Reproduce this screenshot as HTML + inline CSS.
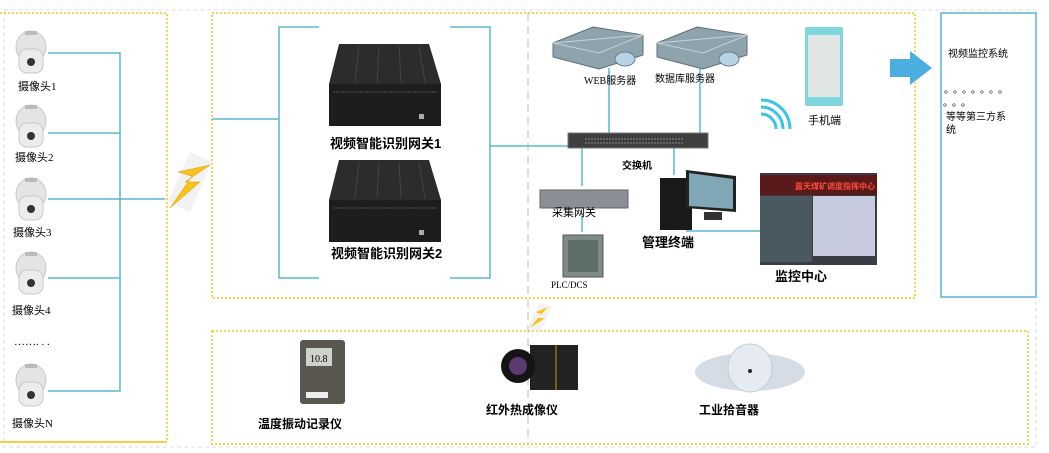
<!DOCTYPE html>
<html><head><meta charset="utf-8"><style>
body{margin:0;width:1049px;height:453px;background:#fff;overflow:hidden;font-family:"Liberation Serif","Noto Serif CJK SC","Noto Sans CJK SC",serif}
svg{position:absolute;left:0;top:0}
text{font-family:"Liberation Serif","Noto Sans CJK SC",sans-serif}
.b{font-weight:bold;font-family:"Liberation Sans","Noto Sans CJK SC",sans-serif}
</style></head><body>
<svg width="1049" height="453" viewBox="0 0 1049 453">
<defs>
<g id="cam">
<ellipse cx="16" cy="18" rx="15" ry="16" fill="#e4e4e4" stroke="#c8c8c8"/>
<rect x="4" y="20" width="24" height="24" rx="8" fill="#ececec" stroke="#c8c8c8"/>
<circle cx="16" cy="33" r="4" fill="#333"/>
<rect x="10" y="2" width="12" height="4" fill="#bbb"/>
</g>
<g id="box">
<polygon points="10,0 100,0 112,40 0,40" fill="#2c2c2e"/>
<g stroke="#444" stroke-width="1">
<line x1="30" y1="2" x2="26" y2="38"/><line x1="50" y1="2" x2="48" y2="38"/><line x1="70" y1="2" x2="72" y2="38"/><line x1="90" y1="2" x2="96" y2="38"/>
</g>
<rect x="0" y="40" width="112" height="42" fill="#1d1d1f"/>
<line x1="4" y1="48" x2="108" y2="48" stroke="#555" stroke-dasharray="2,1"/>
<rect x="90" y="70" width="5" height="5" fill="#aaa"/>
</g>
<g id="srv">
<polygon points="0,16 40,0 90,8 90,28 46,42 0,30" fill="#8fa3ad" stroke="#5d6f78"/>
<polygon points="0,16 46,26 90,8" fill="none" stroke="#c5d2d8"/>
<ellipse cx="72" cy="32" rx="10" ry="7" fill="#b9d3e6" stroke="#6a7f8c"/>
</g>
</defs>

<rect x="4" y="10" width="1032" height="437" fill="none" stroke="#ddd" stroke-dasharray="4,3"/>
<path d="M0 13 H167 V442 H0" fill="none" stroke="#f5c518" stroke-width="1.5" stroke-dasharray="2,2"/>
<line x1="0" y1="442" x2="167" y2="442" stroke="#f5c518" stroke-width="1.5"/>
<rect x="212" y="13" width="703" height="285" fill="none" stroke="#f5c518" stroke-width="1.5" stroke-dasharray="2,2"/>
<rect x="212" y="331" width="816" height="113" fill="none" stroke="#f5c518" stroke-width="1.5" stroke-dasharray="2,2"/>
<rect x="941" y="13" width="95" height="284" fill="none" stroke="#5ab4d6" stroke-width="1.5"/>
<line x1="528" y1="13" x2="528" y2="444" stroke="#bbb" stroke-dasharray="8,5"/>

<g stroke="#5ab8cf" stroke-width="1.5" fill="none">
<path d="M48 53 H120 V391 H48"/>
<path d="M48 133 H120 M48 199 H165 M48 278 H120"/>
<path d="M212 119 H279 M319 27 H279 V278 H319 M450 27 H490 V278 H450 M490 146 H575"/>
<path d="M609 68 V133 M700 68 V133 M582 147 V186 M582 213 V232 M674 147 V175 M686 231 H760"/>
</g>

<use href="#cam" x="15" y="29"/>
<use href="#cam" x="15" y="103"/>
<use href="#cam" x="15" y="176"/>
<use href="#cam" x="15" y="250"/>
<use href="#cam" x="15" y="362"/>
<g font-size="11" fill="#000">
<text x="18" y="90">摄像头1</text>
<text x="15" y="161">摄像头2</text>
<text x="13" y="236">摄像头3</text>
<text x="12" y="314">摄像头4</text>
<text x="14" y="345">……. . .</text>
<text x="12" y="427">摄像头N</text>
</g>

<polygon points="190,152 212,162 190,212 168,202" fill="#f2f2f2"/>
<polygon points="170,208 200,182 185,182 210,165 178,172 192,176" fill="#f7c21b" stroke="#e59a00" stroke-width="0.5"/>
<polygon points="540,302 552,307 540,332 528,327" fill="#f2f2f2"/>
<polygon points="530,328 545,318 538,318 548,307 536,312 541,314" fill="#f7c21b"/>

<use href="#box" x="329" y="44"/>
<use href="#box" x="329" y="160"/>
<text x="330" y="148" class="b" font-size="13">视频智能识别网关1</text>
<text x="331" y="258" class="b" font-size="13">视频智能识别网关2</text>

<use href="#srv" x="553" y="27"/>
<use href="#srv" x="657" y="27"/>
<text x="584" y="84" font-size="10">WEB服务器</text>
<text x="655" y="82" font-size="10">数据库服务器</text>

<rect x="568" y="133" width="140" height="15" fill="#3e3e3e" stroke="#777"/>
<line x1="585" y1="139" x2="683" y2="139" stroke="#888" stroke-dasharray="2,1"/>
<line x1="585" y1="143" x2="683" y2="143" stroke="#888" stroke-dasharray="2,1"/>
<text x="622" y="169" class="b" font-size="10">交换机</text>

<rect x="805" y="27" width="38" height="79" rx="2" fill="#7fd6dc"/>
<rect x="808" y="35" width="32" height="62" fill="#dfe6e3"/>
<text x="808" y="124" font-size="11">手机端</text>
<g fill="none" stroke="#39c4e8" stroke-width="3">
<path d="M761 114 A15 15 0 0 1 776 129"/>
<path d="M761 107 A22 22 0 0 1 783 129"/>
<path d="M761 100 A29 29 0 0 1 790 129"/>
</g>
<polygon points="890,59 910,59 910,51 932,68 910,85 910,77 890,77" fill="#4aaee0"/>

<rect x="540" y="190" width="88" height="18" fill="#8a8e96" stroke="#666"/>
<text x="552" y="216" font-size="11">采集网关</text>
<rect x="563" y="235" width="40" height="42" fill="#7f8a88" stroke="#555"/>
<rect x="568" y="240" width="30" height="32" fill="#5c6e66"/>
<text x="551" y="288" font-size="9">PLC/DCS</text>

<rect x="660" y="178" width="32" height="52" fill="#1a1a1a"/>
<polygon points="686,170 736,176 736,212 686,208" fill="#222"/>
<polygon points="689,173 733,179 733,209 689,206" fill="#7fa7b5"/>
<rect x="704" y="212" width="18" height="8" fill="#333"/>
<text x="642" y="247" class="b" font-size="13">管理终端</text>

<rect x="760" y="173" width="117" height="92" fill="#3a3d45"/>
<rect x="760" y="175" width="117" height="20" fill="#5a1a1a"/>
<text x="795" y="189" font-size="8" fill="#ff4a3a" class="b">露天煤矿调度指挥中心</text>
<rect x="760" y="196" width="52" height="66" fill="#4a5860"/>
<rect x="813" y="196" width="62" height="60" fill="#c6cbe0"/>
<text x="775" y="281" class="b" font-size="13">监控中心</text>

<text x="948" y="57" font-size="10">视频监控系统</text>
<text x="944" y="93" font-size="10" letter-spacing="4">。。。。。。。</text>
<text x="943" y="106" font-size="10" letter-spacing="4">。。。</text>
<text x="946" y="120" font-size="10">等等第三方系</text>
<text x="946" y="133" font-size="10">统</text>

<rect x="300" y="340" width="45" height="64" rx="3" fill="#5a5650"/>
<rect x="306" y="348" width="26" height="18" fill="#cfd2cc"/>
<text x="310" y="362" font-size="10">10.8</text>
<rect x="306" y="392" width="22" height="6" fill="#eee"/>
<text x="258" y="428" class="b" font-size="12">温度振动记录仪</text>

<rect x="530" y="345" width="48" height="45" fill="#222"/>
<line x1="556" y1="345" x2="556" y2="390" stroke="#c8901e"/>
<circle cx="518" cy="366" r="17" fill="#141414"/>
<circle cx="518" cy="366" r="9" fill="#5a3a70"/>
<text x="486" y="414" class="b" font-size="12">红外热成像仪</text>

<ellipse cx="750" cy="372" rx="55" ry="19" fill="#d4dde6"/>
<ellipse cx="750" cy="368" rx="22" ry="24" fill="#e5ebf0" stroke="#c5ced6"/>
<circle cx="750" cy="371" r="2" fill="#222"/>
<text x="699" y="414" class="b" font-size="12">工业拾音器</text>
</svg>
</body></html>
